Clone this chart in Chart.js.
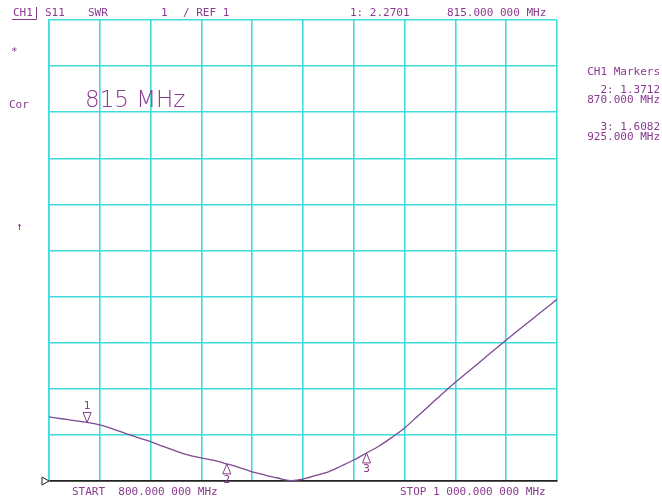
<!DOCTYPE html>
<html>
<head>
<meta charset="utf-8">
<script src="https://cdn.jsdelivr.net/npm/chart.js@4.4.1/dist/chart.umd.min.js"></script>
<style>
  html, body { margin: 0; padding: 0; background: #fff; }
  #wrap { width: 662px; height: 498px; position: relative; overflow: hidden; }
</style>
</head>
<body>
<div id="wrap"><canvas id="swr" width="662" height="498"></canvas></div>
<script>
// --- DATA ---
const freqMHz = [800, 805, 810, 815, 820, 825, 830, 835, 840, 845, 850, 855, 860, 865, 870,
                 875, 880, 885, 890, 895, 900, 905, 910, 915, 920, 925, 930, 935, 940, 945,
                 950, 955, 960, 965, 970, 975, 980, 985, 990, 995, 1000];
const swrValues = [2.39, 2.35, 2.31, 2.27, 2.215, 2.13, 2.035, 1.94, 1.855, 1.75, 1.65, 1.56, 1.50, 1.445, 1.37,
                   1.29, 1.20, 1.13, 1.065, 1.01, 1.04, 1.12, 1.20, 1.325, 1.455, 1.608, 1.76, 1.946, 2.15, 2.40,
                   2.65, 2.90, 3.14, 3.37, 3.60, 3.83, 4.06, 4.28, 4.50, 4.72, 4.94];
const markerIds = ['1', '2', '3'];
const markerFreqs = [815, 870, 925];
const markerSwr = [2.2701, 1.3712, 1.6082];
const yTicks = [1, 2, 3, 4, 5, 6, 7, 8, 9, 10, 11];

// --- CONFIG ---
const GRID = '#3fdcdc';
const TRACE = '#7d4a94';
const TEXT = '#8a3a8e';
const MONO = '11px "DejaVu Sans Mono", monospace';

// screen annotations + markers, drawn on top of the chart
const screenText = {
  id: 'screenText',
  afterDraw(chart) {
    const ctx = chart.ctx;
    const xs = chart.scales.x, ys = chart.scales.y;
    ctx.save();
    ctx.fillStyle = TEXT;
    ctx.strokeStyle = TEXT;
    ctx.font = MONO;
    ctx.textBaseline = 'middle';
    ctx.textAlign = 'left';

    // header line
    ctx.fillText('CH1', 13, 13);
    ctx.lineWidth = 1;
    ctx.beginPath();
    ctx.moveTo(12, 19.5); ctx.lineTo(36.5, 19.5); ctx.lineTo(36.5, 7);
    ctx.stroke();
    ctx.fillText('S11', 45, 13);
    ctx.fillText('SWR', 88, 13);
    ctx.fillText('1', 161, 13);
    ctx.fillText('/ REF 1', 183, 13);
    ctx.fillText('1: 2.2701', 350, 13);
    ctx.fillText('815.000 000 MHz', 447, 13);

    // left side status
    ctx.fillText('*', 11, 52);
    ctx.fillText('Cor', 9, 105);
    ctx.fillText('\u2191', 16, 227);

    // right side marker table
    ctx.textAlign = 'right';
    ctx.fillText('CH1 Markers', 660, 72);
    ctx.fillText('2: 1.3712', 660, 90);
    ctx.fillText('870.000 MHz', 660, 100);
    ctx.fillText('3: 1.6082', 660, 127);
    ctx.fillText('925.000 MHz', 660, 137);

    // bottom start / stop
    ctx.textAlign = 'left';
    ctx.fillText('START  800.000 000 MHz', 72, 492);
    ctx.fillText('STOP 1 000.000 000 MHz', 400, 492);

    // big marker label
    ctx.font = '200 23px "DejaVu Sans", sans-serif';
    ctx.fillText('815 MHz', 85, 101);

    // reference triangle at left of bottom line
    ctx.strokeStyle = '#222';
    ctx.beginPath();
    ctx.moveTo(42, 477); ctx.lineTo(49, 481); ctx.lineTo(42, 485); ctx.closePath();
    ctx.stroke();

    // markers
    ctx.strokeStyle = TEXT;
    ctx.font = MONO;
    ctx.textAlign = 'center';
    markerIds.forEach((id, i) => {
      const px = xs.getPixelForValue(markerFreqs[i]);
      const py = ys.getPixelForValue(markerSwr[i]);
      ctx.beginPath();
      if (i === 0) {
        ctx.moveTo(px, py); ctx.lineTo(px - 4, py - 10); ctx.lineTo(px + 4, py - 10); ctx.closePath();
        ctx.stroke();
        ctx.fillText(id, px, py - 16);
      } else {
        ctx.moveTo(px, py); ctx.lineTo(px - 4, py + 10); ctx.lineTo(px + 4, py + 10); ctx.closePath();
        ctx.stroke();
        ctx.fillText(id, px, py + 16);
      }
    });
    ctx.restore();
  }
};

const zeroSize = (scale) => { if (scale.isHorizontal()) scale.height = 0; else scale.width = 0; };

new Chart(document.getElementById('swr'), {
  type: 'line',
  data: {
    datasets: [{
      data: freqMHz.map((f, i) => ({ x: f, y: swrValues[i] })),
      borderColor: TRACE,
      borderWidth: 1.3,
      pointRadius: 0,
      tension: 0.3,
      fill: false
    }]
  },
  options: {
    responsive: false,
    animation: false,
    devicePixelRatio: 1,
    layout: { padding: { left: 49, right: 105, top: 20, bottom: 17 } },
    plugins: { legend: { display: false }, tooltip: { enabled: false } },
    scales: {
      x: {
        type: 'linear', min: 800, max: 1000,
        ticks: { stepSize: 20, display: false },
        grid: { color: GRID, lineWidth: 1.6, drawTicks: false },
        border: { color: '#222', width: 1.5 },
        afterFit: zeroSize
      },
      y: {
        type: 'linear', min: 1, max: 11,
        afterBuildTicks: (scale) => { scale.ticks = yTicks.map(v => ({ value: v })); },
        ticks: { display: false },
        grid: { color: (c) => c.tick && c.tick.value === 1 ? '#222' : GRID, lineWidth: 1.6, drawTicks: false },
        border: { color: GRID, width: 1.6 },
        afterFit: zeroSize
      }
    }
  },
  plugins: [screenText]
});
</script>
</body>
</html>
